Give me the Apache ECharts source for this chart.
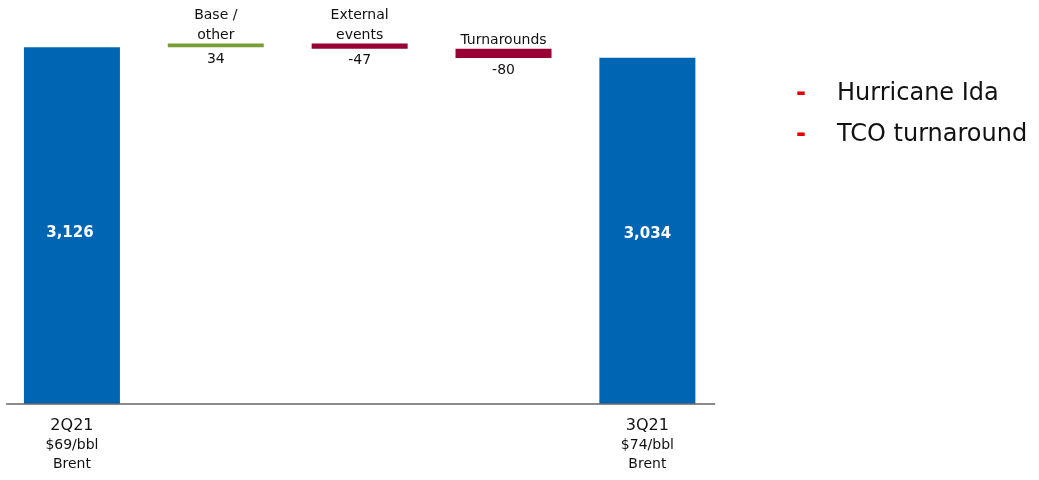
<!DOCTYPE html>
<html>
<head>
<meta charset="utf-8">
<script src="https://cdn.jsdelivr.net/npm/echarts@6/dist/echarts.min.js"></script>
<style>
  html, body { margin: 0; padding: 0; background: #fff; }
  #chart { width: 1039px; height: 480px; }
</style>
</head>
<body>
<div id="chart"></div>
<script>
// Production bridge, 2Q21 -> 3Q21 (MBOED)
const categories = ['2Q21', 'Base /\nother', 'External\nevents', 'Turnarounds', '3Q21'];
const startValue = 3126;
const changes = [34, -47, -80];
const endValue = 3034;
const brentPrices = ['$69/bbl', '$74/bbl'];
const brentLabel = 'Brent';
const notes = ['Hurricane Ida', 'TCO turnaround'];

const BLUE = '#0066b3';
const GREEN = '#7a9e36';
const CRIMSON = '#990033';
const NOTE_RED = '#e00000';
const TEXT = '#111';
const FONT = 'DejaVu Sans';

const fmt = v => v.toLocaleString('en-US');

const totalLabel = offset => ({
  show: true,
  position: 'inside',
  offset: offset,
  color: '#fff',
  fontFamily: FONT,
  fontWeight: 'bold',
  fontSize: 15,
  formatter: p => fmt(p.value)
});

// Waterfall: transparent base + visible step, stacked
const baseData = ['-'];
const stepData = [{ value: startValue, itemStyle: { color: BLUE }, label: totalLabel([-2, 7]) }];
let level = startValue;
changes.forEach(c => {
  const next = level + c;
  baseData.push(Math.min(level, next));
  stepData.push({ value: Math.abs(c), itemStyle: { color: c >= 0 ? GREEN : CRIMSON } });
  level = next;
});
baseData.push('-');
stepData.push({ value: endValue, itemStyle: { color: BLUE }, label: totalLabel([0, 3]) });

const lastIdx = categories.length - 1;

const chart = echarts.init(document.getElementById('chart'), null, { renderer: 'canvas' });
chart.setOption({
  animation: false,
  backgroundColor: '#fff',
  textStyle: { fontFamily: FONT },
  grid: [
    { left: -0.7, width: 720, top: 4.6, bottom: 76 },
    { left: 6.7, right: 324.4, top: 4.6, bottom: 76 }
  ],
  xAxis: [
    {
      type: 'category',
      gridIndex: 0,
      data: categories,
      axisLine: { show: false },
      axisTick: { show: false },
      axisLabel: {
        interval: 0,
        margin: 11,
        color: TEXT,
        fontFamily: FONT,
        formatter: (value, idx) => {
          if (idx === 0) return `{a|${value}}\n{b|${brentPrices[0]}}\n{b|${brentLabel}}`;
          if (idx === lastIdx) return `{a|${value}}\n{b|${brentPrices[1]}}\n{b|${brentLabel}}`;
          return '';
        },
        rich: {
          a: { fontSize: 16, lineHeight: 21, color: TEXT, fontFamily: FONT },
          b: { fontSize: 14, lineHeight: 19, color: TEXT, fontFamily: FONT }
        }
      }
    },
    {
      type: 'category',
      gridIndex: 1,
      data: [''],
      z: 5,
      axisLine: { show: true, lineStyle: { color: '#666', width: 1.5 } },
      axisTick: { show: false },
      axisLabel: { show: false }
    }
  ],
  yAxis: [
    { type: 'value', gridIndex: 0, min: 0, max: 3500, show: false },
    { type: 'value', gridIndex: 1, min: 0, max: 3500, show: false }
  ],
  series: [
    {
      name: 'base',
      type: 'bar',
      stack: 'bridge',
      barWidth: 96,
      silent: true,
      itemStyle: { color: 'transparent' },
      label: {
        show: true,
        position: 'insideTop',
        distance: 4,
        lineHeight: 16,
        color: TEXT,
        fontFamily: FONT,
        fontSize: 14,
        formatter: p => String(changes[p.dataIndex - 1])
      },
      data: baseData
    },
    {
      name: 'step',
      type: 'bar',
      stack: 'bridge',
      barWidth: 96,
      label: {
        show: true,
        position: 'top',
        distance: -1.5,
        lineHeight: 20,
        color: TEXT,
        fontFamily: FONT,
        fontSize: 14,
        formatter: p => categories[p.dataIndex]
      },
      data: stepData
    }
  ],
  graphic: notes.map((t, i) => ({
    type: 'group',
    left: 796,
    top: 82 + i * 41,
    children: [
      {
        type: 'text',
        style: { text: '-', x: 0, y: 0, font: `bold 24px "${FONT}"`, fill: NOTE_RED }
      },
      {
        type: 'text',
        style: { text: t, x: 41, y: 0, font: `24px "${FONT}"`, fill: TEXT }
      }
    ]
  }))
});
</script>
</body>
</html>
